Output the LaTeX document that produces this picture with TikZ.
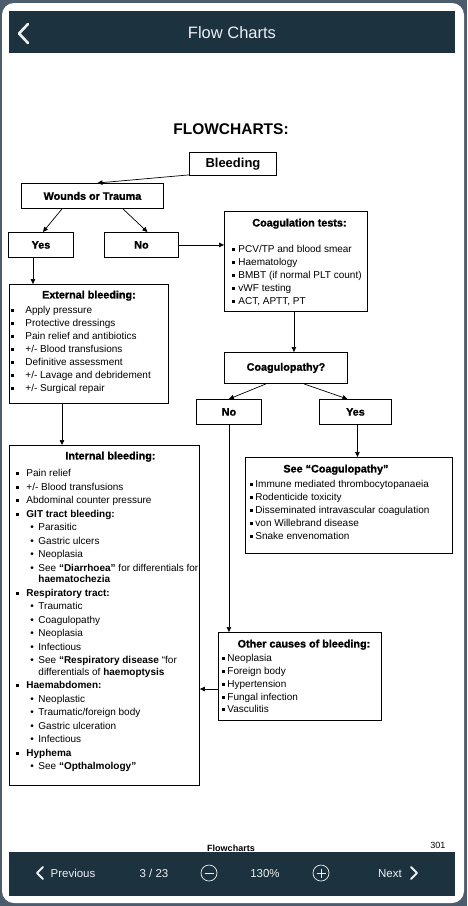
\documentclass[tikz,border=0pt]{standalone}
\usepackage{fontspec}
\setmainfont{Liberation Sans}
\newfontfamily\heavyfont{Liberation Sans Bold}[FakeBold=1.2]
\usepackage{xcolor}
\definecolor{framebg}{RGB}{76, 92, 108}
\definecolor{barbg}{RGB}{29, 50, 63}
\definecolor{bartext}{RGB}{236, 240, 243}
\usepackage{tikz}
\usetikzlibrary{arrows.meta, positioning, calc}
\newlength{\bulx}
\newlength{\txtx}
\newcommand{\itemfont}{\fontsize{10}{13}\selectfont}
\newcommand{\titlefont}{\heavyfont\fontsize{10.8}{13}\selectfont}
\newcommand{\sqbul}{\rule[1.5pt]{3pt}{3pt}}
\newcommand{\indents}[2]{\setlength{\bulx}{#1}\setlength{\txtx}{#2}}
\newcommand{\listbody}[5]{\parbox[c][#2][t]{#1}{\itemfont\setlength{\baselineskip}{#4}\rule{0pt}{#3}#5}}
\newcommand{\boxtitle}[2][0pt]{\makebox[\linewidth][c]{\hspace*{#1}\titlefont #2}\par}
\newcommand{\sqitem}[1]{\hspace*{\bulx}\makebox[\dimexpr\txtx-\bulx\relax][l]{\sqbul}\mbox{#1}\par}
\newcommand{\rditem}[1]{\hspace*{21pt}\makebox[8pt][l]{\textbullet}\mbox{#1}\par}
\newcommand{\contline}[1]{\vspace{-2pt}\hspace*{29pt}\mbox{#1}\par}
\tikzset{
  shortbox/.style={draw=black, line width=0.9pt, anchor=north west,
    inner sep=0pt, font=\titlefont},
  listbox/.style={draw=black, line width=0.9pt, anchor=north west, inner sep=0pt},
  flowarrow/.style={-{Triangle[length=5pt, width=4.5pt]}, line width=0.7pt},
  bartxt/.style={text=bartext, font=\fontsize{11.5}{13}\selectfont, anchor=base},
  barline/.style={draw=bartext, line width=2pt, line cap=round, line join=round},
  pagetxt/.style={font=\bfseries\fontsize{9}{11}\selectfont, anchor=base}
}
\begin{document}
\begin{tikzpicture}[x=1pt, y=-1pt]
  \useasboundingbox (0,0) rectangle (467,906);
  \fill[framebg] (0,0) rectangle (467,906);
  \fill[white, rounded corners=12pt] (2,3) rectangle (464,903);
  \fill[barbg] (9,11) rectangle (455,53);
  \draw[barline, line width=2.6pt] (28,24) -- (19,33.5) -- (28,43);
  \node[text=bartext, font=\fontsize{16.5}{18}\selectfont] (bartitle) at (232,33) {Flow Charts};

  \node[font=\bfseries\fontsize{15.5}{18}\selectfont, anchor=base] (heading) at (231,134) {FLOWCHARTS:};

  \node[shortbox, minimum width=87pt, minimum height=23pt,
    font=\bfseries\fontsize{13}{15}\selectfont] (bleeding) at (189,152) {Bleeding};
  \node[shortbox, minimum width=142pt, minimum height=25pt] (wounds) at (21,183) {Wounds or Trauma};
  \node[shortbox, minimum width=65pt, minimum height=25pt] (yesA) at (8,232) {Yes};
  \node[shortbox, minimum width=74pt, minimum height=25pt] (noA) at (104,232) {No};

  \node[listbox] (coagtests) at (224,211)
    {\indents{8pt}{14pt}\listbody{143pt}{100pt}{15pt}{13pt}{%
     \boxtitle[7pt]{Coagulation tests:}
     \vspace{13pt}
     \sqitem{PCV/TP and blood smear}
     \sqitem{Haematology}
     \sqitem{BMBT (if normal PLT count)}
     \sqitem{vWF testing}
     \sqitem{ACT, APTT, PT}}};

  \node[listbox] (extbleed) at (9,284)
    {\indents{2pt}{16pt}\listbody{159pt}{119pt}{14pt}{13pt}{%
     \boxtitle{External bleeding:}
     \vspace{2.5pt}
     \sqitem{Apply pressure}
     \sqitem{Protective dressings}
     \sqitem{Pain relief and antibiotics}
     \sqitem{+/- Blood transfusions}
     \sqitem{Definitive assessment}
     \sqitem{+/- Lavage and debridement}
     \sqitem{+/- Surgical repair}}};

  \node[shortbox, minimum width=123pt, minimum height=31pt] (coagq) at (224,352) {Coagulopathy?};
  \node[shortbox, minimum width=65pt, minimum height=25pt] (noB) at (196,399) {No};
  \node[shortbox, minimum width=72pt, minimum height=25pt] (yesB) at (319,399) {Yes};

  \node[listbox] (seecoag) at (245,457)
    {\indents{5pt}{10pt}\listbody{207pt}{96pt}{15pt}{13pt}{%
     \boxtitle[-26pt]{See “Coagulopathy”}
     \vspace{2pt}
     \sqitem{Immune mediated thrombocytopanaeia}
     \sqitem{Rodenticide toxicity}
     \sqitem{Disseminated intravascular coagulation}
     \sqitem{von Willebrand disease}
     \sqitem{Snake envenomation}}};

  \node[listbox] (intbleed) at (9,445)
    {\indents{7pt}{17pt}\listbody{190pt}{340pt}{14pt}{13.5pt}{%
     \boxtitle[12pt]{Internal bleeding:}
     \vspace{4pt}
     \sqitem{Pain relief}
     \sqitem{+/- Blood transfusions}
     \sqitem{Abdominal counter pressure}
     \sqitem{\textbf{GIT tract bleeding:}}
     \rditem{Parasitic}
     \rditem{Gastric ulcers}
     \rditem{Neoplasia}
     \rditem{See \textbf{“Diarrhoea”} for differentials for}
     \contline{\textbf{haematochezia}}
     \sqitem{\textbf{Respiratory tract:}}
     \rditem{Traumatic}
     \rditem{Coagulopathy}
     \rditem{Neoplasia}
     \rditem{Infectious}
     \rditem{See \textbf{“Respiratory disease} “for}
     \contline{differentials of \textbf{haemoptysis}}
     \sqitem{\textbf{Haemabdomen:}}
     \rditem{Neoplastic}
     \rditem{Traumatic/foreign body}
     \rditem{Gastric ulceration}
     \rditem{Infectious}
     \sqitem{\textbf{Hyphema}}
     \rditem{See \textbf{“Opthalmology”}}}};

  \node[listbox] (othercause) at (218,632)
    {\indents{4pt}{9pt}\listbody{163pt}{88pt}{15pt}{12.8pt}{%
     \boxtitle[8pt]{Other causes of bleeding:}
     \vspace{1.5pt}
     \sqitem{Neoplasia}
     \sqitem{Foreign body}
     \sqitem{Hypertension}
     \sqitem{Fungal infection}
     \sqitem{Vasculitis}}};

  \coordinate (yesAout) at ([xshift=-8pt]yesA.south);
  \coordinate (extout) at ([xshift=53pt]extbleed.south west);
  \coordinate (otherout) at ([yshift=-57pt]othercause.north west);

  \draw[flowarrow] ([yshift=1pt]bleeding.south west) -- ([xshift=5pt]wounds.north);
  \draw[flowarrow] ([xshift=41pt]wounds.south west) -- ([xshift=2pt]yesA.north);
  \draw[flowarrow] ([xshift=102pt]wounds.south west) -- ([xshift=6pt]noA.north);
  \draw[flowarrow] (noA.east) -- (noA.east -| coagtests.west);
  \draw[flowarrow] (yesAout) -- (yesAout |- extbleed.north);
  \draw[flowarrow] (extout) -- (extout |- intbleed.north);
  \draw[flowarrow] ([xshift=-2pt]coagtests.south) -- ([xshift=-2pt]coagtests.south |- coagq.north);
  \draw[flowarrow] ([xshift=-20pt]coagq.south) -- (noB.north);
  \draw[flowarrow] ([xshift=18pt]coagq.south) -- ([xshift=-8pt]yesB.north);
  \draw[flowarrow] ([xshift=2pt]yesB.south) -- ([xshift=2pt]yesB.south |- seecoag.north);
  \draw[flowarrow] (noB.south) -- (noB.south |- othercause.north);
  \draw[flowarrow] (otherout) -- (otherout -| intbleed.east);

  \node[pagetxt] (pagename) at (231,851) {Flowcharts};
  \node[pagetxt, font=\fontsize{9}{11}\selectfont, anchor=base east] (pagenum) at (449,848) {301};

  \fill[barbg] (9,852) rectangle (455,896);
  \draw[barline] (43,867) -- (37,873) -- (43,879);
  \node[bartxt] (prevtxt) at (73,877) {Previous};
  \node[bartxt] (pagecount) at (154,877) {3 / 23};
  \draw[draw=bartext, line width=0.7pt] (209,873) circle (8);
  \draw[draw=bartext, line width=0.7pt] (204.5,873) -- (213.5,873);
  \node[bartxt] (zoomtxt) at (265,877) {130\%};
  \draw[draw=bartext, line width=0.7pt] (321,873) circle (8);
  \draw[draw=bartext, line width=0.7pt] (316.5,873) -- (325.5,873) (321,868.5) -- (321,877.5);
  \node[bartxt] (nexttxt) at (390,877) {Next};
  \draw[barline] (411,867) -- (417,873) -- (411,879);
\end{tikzpicture}
\end{document}
